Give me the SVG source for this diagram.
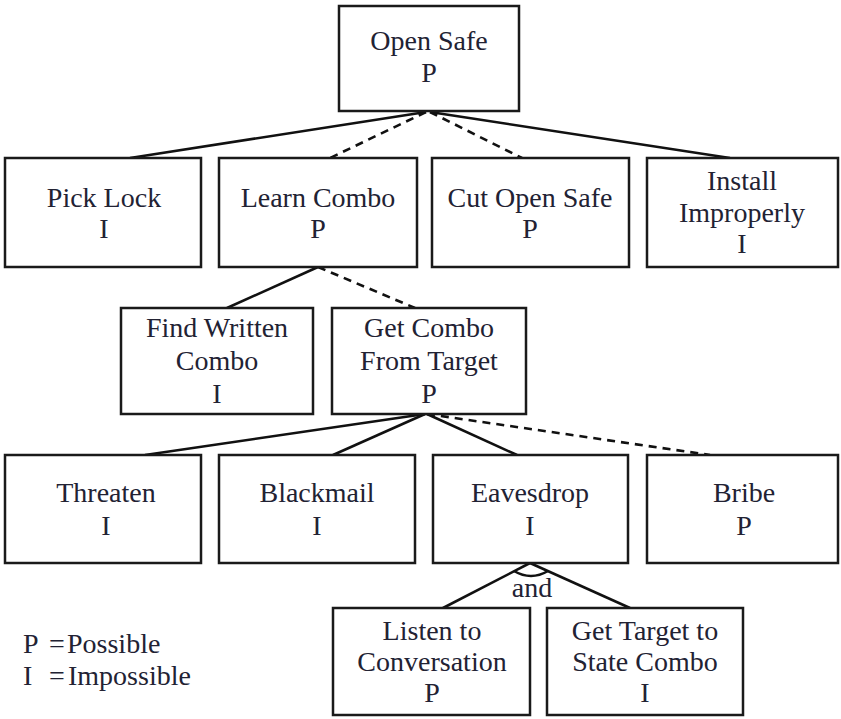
<svg xmlns="http://www.w3.org/2000/svg" width="841" height="719" viewBox="0 0 841 719">
  <style>
    .box { fill: #ffffff; stroke: #1a1a1a; stroke-width: 2.5; }
    .lbl { font-size: 28px; fill: #222233; text-anchor: middle; }
    .leg { font-size: 28px; fill: #222233; }
    .edge { stroke: #111111; stroke-width: 2.6; fill: none; }
    .dash { stroke-dasharray: 8 6; }
  </style>
  <rect width="841" height="719" fill="#ffffff"/>

  <g font-family="Liberation Serif, DejaVu Serif, serif">
  <g id="connectors">
    <!-- Open Safe to children -->
    <line class="edge" x1="426" y1="112" x2="130" y2="158"/>
    <line class="edge dash" x1="426" y1="112" x2="330" y2="158"/>
    <line class="edge dash" x1="430" y1="112" x2="522" y2="158"/>
    <line class="edge" x1="430" y1="112" x2="730" y2="158"/>
    <!-- Learn Combo to children -->
    <line class="edge" x1="318" y1="267" x2="227" y2="308"/>
    <line class="edge dash" x1="318" y1="267" x2="415" y2="308"/>
    <!-- Get Combo From Target to children -->
    <line class="edge" x1="425" y1="414" x2="145" y2="455"/>
    <line class="edge" x1="425" y1="414" x2="333" y2="455"/>
    <line class="edge" x1="427" y1="414" x2="517" y2="455"/>
    <line class="edge dash" x1="427" y1="414" x2="710" y2="455"/>
    <!-- Eavesdrop to children (and) -->
    <line class="edge" x1="530" y1="563" x2="443" y2="608"/>
    <line class="edge" x1="530" y1="563" x2="630" y2="608"/>
    <path class="edge" d="M514,571 Q531,581 548,571" stroke-width="2"/>
    <text class="lbl" x="532" y="597">and</text>
  </g>

  <g id="open-safe">
    <rect class="box" x="339" y="6" width="180" height="105"/>
    <text class="lbl" x="429" y="50">Open Safe</text>
    <text class="lbl" x="429" y="82">P</text>
  </g>

  <g id="pick-lock">
    <rect class="box" x="5" y="158" width="196" height="109"/>
    <text class="lbl" x="104" y="207">Pick Lock</text>
    <text class="lbl" x="104" y="238">I</text>
  </g>

  <g id="learn-combo">
    <rect class="box" x="219" y="158" width="198" height="109"/>
    <text class="lbl" x="318" y="207">Learn Combo</text>
    <text class="lbl" x="318" y="238">P</text>
  </g>

  <g id="cut-open-safe">
    <rect class="box" x="432" y="158" width="197" height="109"/>
    <text class="lbl" x="530" y="207">Cut Open Safe</text>
    <text class="lbl" x="530" y="238">P</text>
  </g>

  <g id="install-improperly">
    <rect class="box" x="647" y="158" width="191" height="109"/>
    <text class="lbl" x="742" y="190">Install</text>
    <text class="lbl" x="742" y="222">Improperly</text>
    <text class="lbl" x="742" y="253">I</text>
  </g>

  <g id="find-written-combo">
    <rect class="box" x="121" y="308" width="192" height="106"/>
    <text class="lbl" x="217" y="337">Find Written</text>
    <text class="lbl" x="217" y="370">Combo</text>
    <text class="lbl" x="217" y="403">I</text>
  </g>

  <g id="get-combo-from-target">
    <rect class="box" x="332" y="308" width="194" height="106"/>
    <text class="lbl" x="429" y="337">Get Combo</text>
    <text class="lbl" x="429" y="370">From Target</text>
    <text class="lbl" x="429" y="403">P</text>
  </g>

  <g id="threaten">
    <rect class="box" x="5" y="455" width="196" height="108"/>
    <text class="lbl" x="106" y="502">Threaten</text>
    <text class="lbl" x="106" y="535">I</text>
  </g>

  <g id="blackmail">
    <rect class="box" x="219" y="455" width="196" height="108"/>
    <text class="lbl" x="317" y="502">Blackmail</text>
    <text class="lbl" x="317" y="535">I</text>
  </g>

  <g id="eavesdrop">
    <rect class="box" x="433" y="455" width="195" height="108"/>
    <text class="lbl" x="530" y="502">Eavesdrop</text>
    <text class="lbl" x="530" y="535">I</text>
  </g>

  <g id="bribe">
    <rect class="box" x="647" y="455" width="191" height="108"/>
    <text class="lbl" x="744" y="502">Bribe</text>
    <text class="lbl" x="744" y="535">P</text>
  </g>

  <g id="listen-to-conversation">
    <rect class="box" x="333" y="608" width="197" height="107"/>
    <text class="lbl" x="432" y="640">Listen to</text>
    <text class="lbl" x="432" y="671">Conversation</text>
    <text class="lbl" x="432" y="702">P</text>
  </g>

  <g id="get-target-to-state-combo">
    <rect class="box" x="547" y="608" width="196" height="107"/>
    <text class="lbl" x="645" y="640">Get Target to</text>
    <text class="lbl" x="645" y="671">State Combo</text>
    <text class="lbl" x="645" y="702">I</text>
  </g>

  <g id="legend">
    <text class="leg" y="653"><tspan x="23">P</tspan><tspan x="49">=</tspan><tspan x="67">Possible</tspan></text>
    <text class="leg" y="685"><tspan x="23">I</tspan><tspan x="49">=</tspan><tspan x="68">Impossible</tspan></text>
  </g>
  </g>
</svg>
